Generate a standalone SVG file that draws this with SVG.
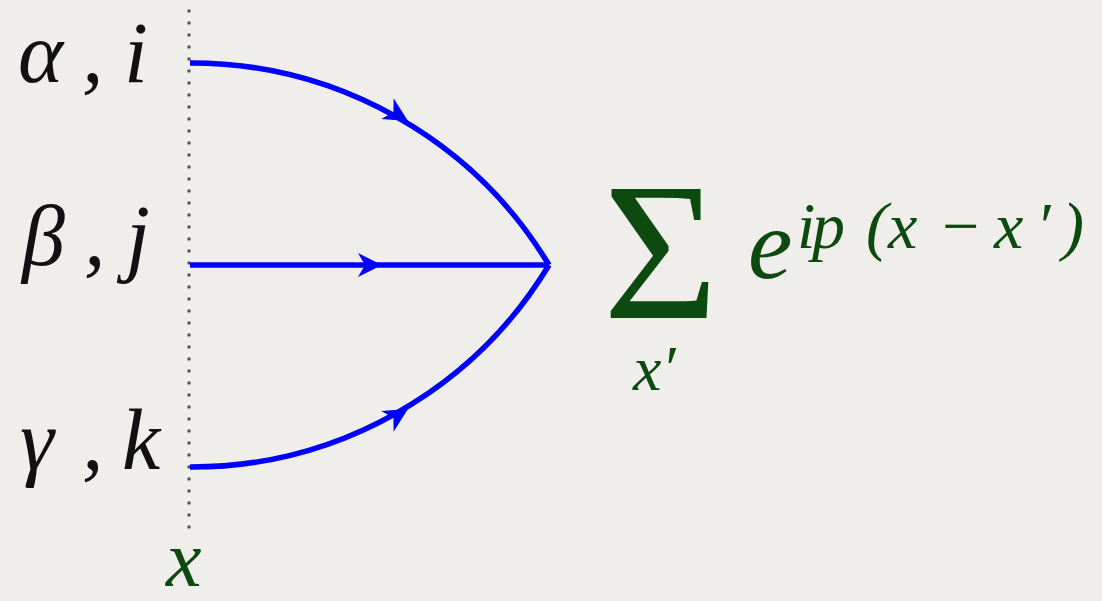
<svg xmlns="http://www.w3.org/2000/svg" width="1102" height="601" viewBox="0 0 1102 601">
<defs>
<path id="arr" d="M0,0 L-24,-12 L-17,0 L-24,12 Z" fill="#0000ff"/>
</defs>
<rect width="1102" height="601" fill="#efeeea"/>
<line x1="189" y1="11" x2="189" y2="528" stroke="#555" stroke-width="3.5" stroke-linecap="round" stroke-dasharray="0 12"/>
<g id="connectors" fill="none" stroke="#0000ff" stroke-width="5.5">
<path d="M190,63 A418,418 0 0 1 549,265"/>
<path d="M190,265 L549,265"/>
<path d="M190,467 A418,418 0 0 0 549,265"/>
<use href="#arr" stroke="none" transform="translate(408,121) rotate(31)"/>
<use href="#arr" stroke="none" transform="translate(382,265)"/>
<use href="#arr" stroke="none" transform="translate(408,409) rotate(-31)"/>
</g>
<g id="label-alpha"><text font-family="serif" font-style="italic" fill="#111" x="18 82 100 124" y="82" font-size="86">α, i</text></g>
<g id="label-beta"><text font-family="serif" font-style="italic" fill="#111" x="22 84 100 126" y="265" font-size="86">β, j</text></g>
<g id="label-gamma"><text font-family="serif" font-style="italic" fill="#111" x="20 82 100 122" y="469" font-size="86">γ, k</text></g>
<g id="label-x"><text font-family="serif" font-style="italic" fill="#0d4a10" x="166" y="586" font-size="80">x</text></g>
<g id="sum">
<text font-family="serif" fill="#0d4a10" x="603" y="318" font-size="198">Σ</text>
<text font-family="serif" font-style="italic" fill="#0d4a10" x="633" y="390" font-size="64">x′</text>
<text font-family="serif" font-style="italic" fill="#0d4a10" x="748" y="278" font-size="100">e</text>
<text font-family="serif" font-style="italic" fill="#0d4a10" x="797 812 866 888 938 994 1036 1062" y="248" font-size="66">ip(x−x′)</text>
</g>
</svg>
